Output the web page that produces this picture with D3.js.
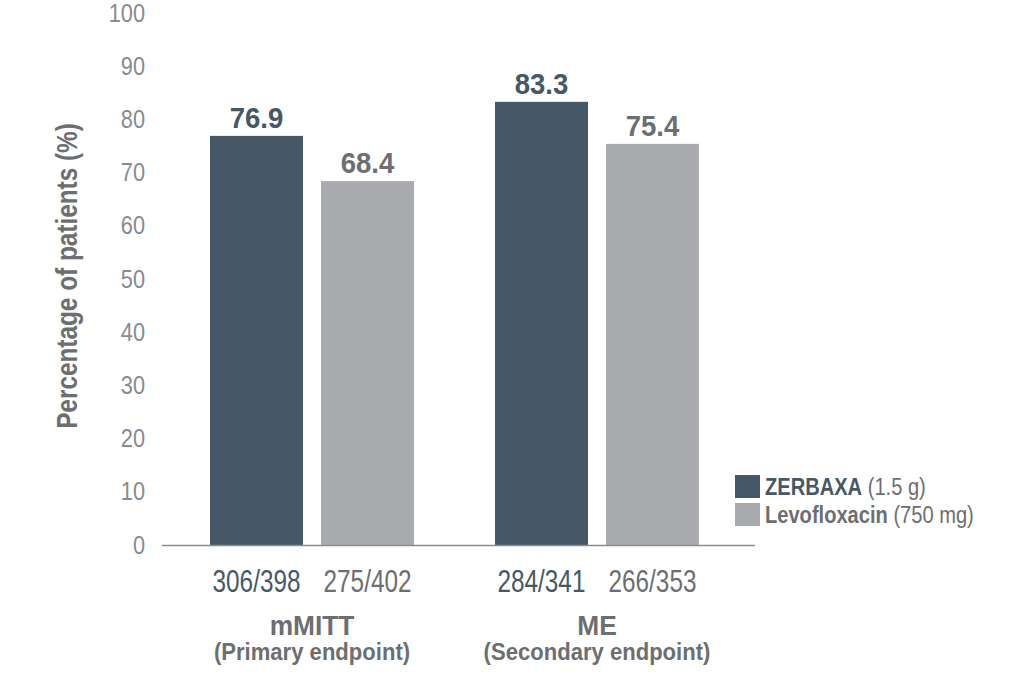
<!DOCTYPE html>
<html><head><meta charset="utf-8">
<script src="https://cdn.jsdelivr.net/npm/d3@7"></script>
<style>
body{margin:0;background:#fff;}
text{font-family:"Liberation Sans Narrow","Liberation Sans",Arial,sans-serif;}
</style></head>
<body><svg id="c" width="1023" height="680"></svg>
<script>
const groups = ["mMITT", "ME"];
const groupSubtitles = ["(Primary endpoint)", "(Secondary endpoint)"];
const series = ["ZERBAXA", "Levofloxacin"];
const seriesDose = [" (1.5 g)", " (750 mg)"];
const zerbaxaValues = [76.9, 83.3];
const levoValues = [68.4, 75.4];
const zerbaxaCounts = ["306/398", "284/341"];
const levoCounts = ["275/402", "266/353"];
const yTicks = [0,10,20,30,40,50,60,70,80,90,100];
const yTitle = "Percentage of patients (%)";

const colors = ["#465866", "#a9abae"];
const textColors = ["#465866", "#6d6e71"];

const svg = d3.select("#c");
const y = d3.scaleLinear().domain([0,100]).range([545,13]);
const x0 = d3.scaleBand().domain(groups).range([210,699]).paddingInner(0.284);
const x1 = d3.scaleBand().domain(series).range([0,x0.bandwidth()]).paddingInner(0.162);

const values = [zerbaxaValues, levoValues];
const counts = [zerbaxaCounts, levoCounts];
const data = [];
groups.forEach((g,gi)=>series.forEach((s,si)=>data.push({g,s,si,v:values[si][gi],c:counts[si][gi]})));

function ctext(parent, x, yy, sx, extra){
  return parent.append("text").attr("transform",`translate(${x},${yy})${extra||""} scale(${sx},1)`);
}

// y axis labels
const yAxis = d3.axisLeft(y).tickValues(yTicks).tickSize(0).tickPadding(0);
const ya = svg.append("g").attr("transform","translate(145,0)").call(yAxis);
ya.select(".domain").remove();
ya.selectAll("text").attr("font-size",25).attr("fill","#898b8e")
  .attr("font-family",'"Liberation Sans Narrow","Liberation Sans",sans-serif')
  .attr("transform","scale(0.87,1)");

ctext(svg, 77, 276, 0.84, " rotate(-90)")
  .attr("text-anchor","middle").attr("font-size",29).attr("font-weight","bold")
  .attr("fill","#6d6e71").text(yTitle);

// bars
svg.selectAll("rect.bar").data(data).join("rect").attr("class","bar")
  .attr("x",d=>x0(d.g)+x1(d.s)).attr("width",x1.bandwidth())
  .attr("y",d=>y(d.v)).attr("height",d=>y(0)-y(d.v)).attr("fill",d=>colors[d.si]);

// value labels
svg.selectAll("text.val").data(data).join("text").attr("class","val")
  .attr("transform",d=>`translate(${x0(d.g)+x1(d.s)+x1.bandwidth()/2},${y(d.v)-8}) scale(0.95,1)`)
  .attr("text-anchor","middle").attr("font-size",29).attr("font-weight","bold")
  .attr("fill",d=>textColors[d.si]).text(d=>d.v.toFixed(1));

// baseline
svg.append("line").attr("x1",162).attr("x2",755).attr("y1",y(0)+0.5).attr("y2",y(0)+0.5)
  .attr("stroke","#8a8c8f").attr("stroke-width",1.5);

// counts
svg.selectAll("text.cnt").data(data).join("text").attr("class","cnt")
  .attr("transform",d=>`translate(${x0(d.g)+x1(d.s)+x1.bandwidth()/2},592) scale(0.76,1)`)
  .attr("text-anchor","middle").attr("font-size",32)
  .attr("fill",d=>textColors[d.si]).text(d=>d.c);

// group labels
groups.forEach((g,i)=>{
  const cx = x0(g)+x0.bandwidth()/2;
  ctext(svg, cx, 635, 0.94).attr("text-anchor","middle")
    .attr("font-size",28).attr("font-weight","bold").attr("fill","#6d6e71").text(g);
  ctext(svg, cx, 660, 0.92).attr("text-anchor","middle")
    .attr("font-size",24).attr("font-weight","bold").attr("fill","#6d6e71").text(groupSubtitles[i]);
});

// legend
series.forEach((s,i)=>{
  const ly = 475 + i*28;
  svg.append("rect").attr("x",735).attr("y",ly).attr("width",25).attr("height",23).attr("fill",colors[i]);
  const t = ctext(svg, 765, ly+20, 0.855).attr("font-size",23.5).attr("fill","#6d6e71");
  t.append("tspan").attr("font-weight","bold").attr("fill",i===0?"#465866":"#6d6e71").text(s);
  t.append("tspan").text(seriesDose[i]);
});
</script></body></html>
